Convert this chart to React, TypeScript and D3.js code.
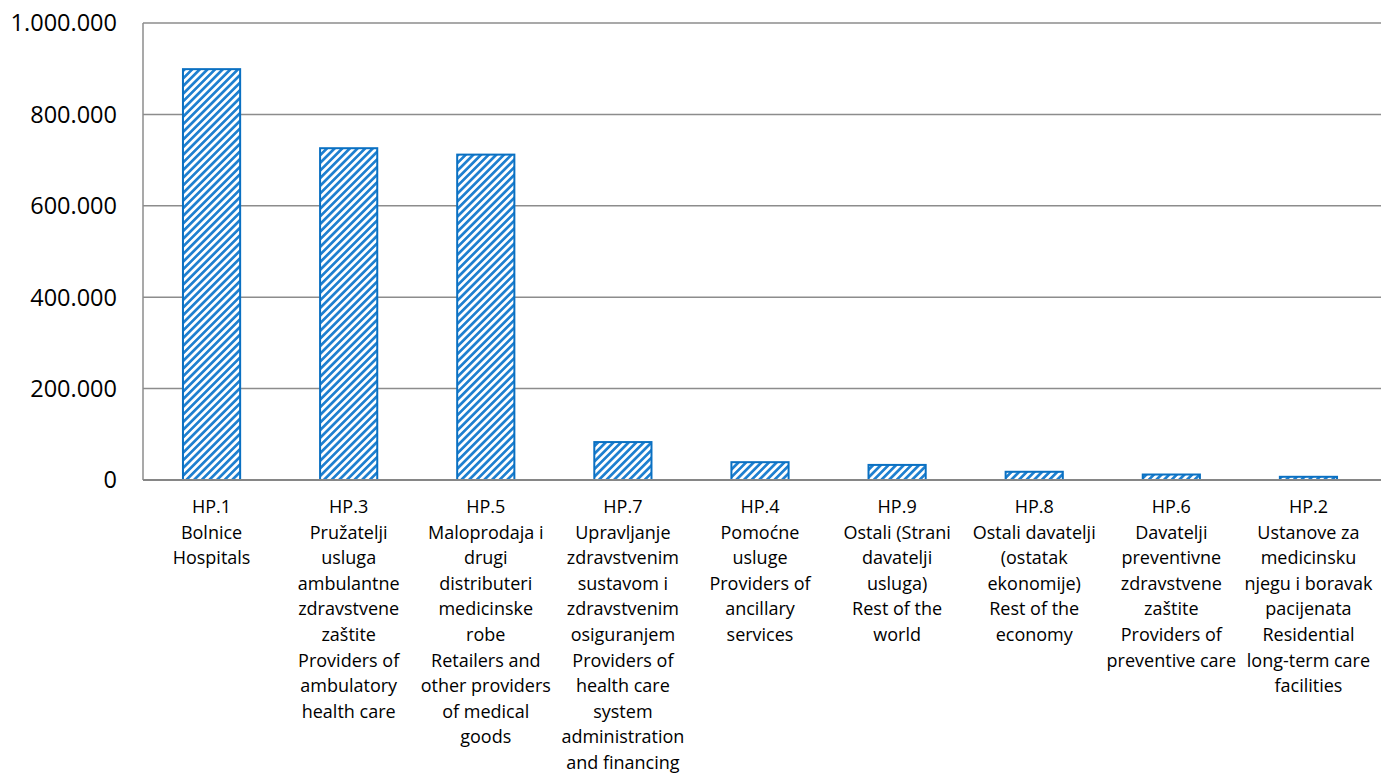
import * as React from "react";
import { scaleBand, scaleLinear, range } from "d3";

// categories in display order
const codes = ["HP.1", "HP.3", "HP.5", "HP.7", "HP.4", "HP.9", "HP.8", "HP.6", "HP.2"];

const labelLines: string[][] = [
  ["HP.1", "Bolnice", "Hospitals"],
  ["HP.3", "Pružatelji", "usluga", "ambulantne", "zdravstvene", "zaštite", "Providers of", "ambulatory", "health care"],
  ["HP.5", "Maloprodaja i", "drugi", "distributeri", "medicinske", "robe", "Retailers and", "other providers", "of medical", "goods"],
  ["HP.7", "Upravljanje", "zdravstvenim", "sustavom i", "zdravstvenim", "osiguranjem", "Providers of", "health care", "system", "administration", "and financing"],
  ["HP.4", "Pomoćne", "usluge", "Providers of", "ancillary", "services"],
  ["HP.9", "Ostali (Strani", "davatelji", "usluga)", "Rest of the", "world"],
  ["HP.8", "Ostali davatelji", "(ostatak", "ekonomije)", "Rest of the", "economy"],
  ["HP.6", "Davatelji", "preventivne", "zdravstvene", "zaštite", "Providers of", "preventive care"],
  ["HP.2", "Ustanove za", "medicinsku", "njegu i boravak", "pacijenata", "Residential", "long-term care", "facilities"],
];

const values = [899000, 726000, 712000, 83000, 39000, 33000, 18000, 12000, 7000];

const yTicks = [0, 200000, 400000, 600000, 800000, 1000000];

const fmt = (v: number) => v.toLocaleString("de-DE");

const W = 1381;
const H = 778;
const left = 143;
const plotRight = 1377;
const top = 23;
const bottom = 480;

export default function App() {
  const x = scaleBand()
    .domain(codes)
    .range([left, plotRight])
    .paddingInner(0.583)
    .paddingOuter(0.2915);

  const y = scaleLinear().domain([0, 1000000]).range([bottom, top]);

  const font = "'Open Sans', sans-serif";

  return (
    <svg
      width={W}
      height={H}
      style={{ position: "absolute", left: 0, top: 0, background: "#fff" }}
      fontFamily={font}
    >
      <defs>
        <pattern
          id="stripes"
          patternUnits="userSpaceOnUse"
          width={5.4}
          height={5.4}
          patternTransform="rotate(45)"
        >
          <rect width={5.4} height={5.4} fill="#ffffff" />
          <rect width={2.7} height={5.4} fill="#1f80d0" />
        </pattern>
      </defs>

      {/* gridlines */}
      {yTicks.filter((t) => t > 0).map((t) => (
        <line
          key={t}
          x1={left}
          x2={W}
          y1={y(t)}
          y2={y(t)}
          stroke="#8c8c8c"
          strokeWidth={1.5}
        />
      ))}

      {/* y axis line */}
      <line x1={left} x2={left} y1={top} y2={bottom} stroke="#8c8c8c" strokeWidth={1.5} />

      {/* tick labels */}
      {yTicks.map((t) => (
        <text
          key={t}
          x={117}
          y={y(t)}
          dy="0.36em"
          textAnchor="end"
          fontSize={23.5}
          fill="#000"
        >
          {fmt(t)}
        </text>
      ))}

      {/* bars */}
      {values.map((v, i) => (
        <rect
          key={codes[i]}
          x={x(codes[i])}
          y={y(v)}
          width={x.bandwidth()}
          height={bottom - y(v)}
          fill="url(#stripes)"
          stroke="#0a70c2"
          strokeWidth={2}
        />
      ))}

      {/* x axis */}
      <line x1={left} x2={W} y1={bottom} y2={bottom} stroke="#868686" strokeWidth={2} />

      {/* category labels */}
      {labelLines.map((lines, i) => {
        const cx = (x(codes[i]) ?? 0) + x.bandwidth() / 2;
        return (
          <text key={codes[i]} textAnchor="middle" fontSize={18} fill="#000">
            {range(lines.length).map((j) => (
              <tspan key={j} x={cx} y={513 + j * 25.6}>
                {lines[j]}
              </tspan>
            ))}
          </text>
        );
      })}
    </svg>
  );
}
